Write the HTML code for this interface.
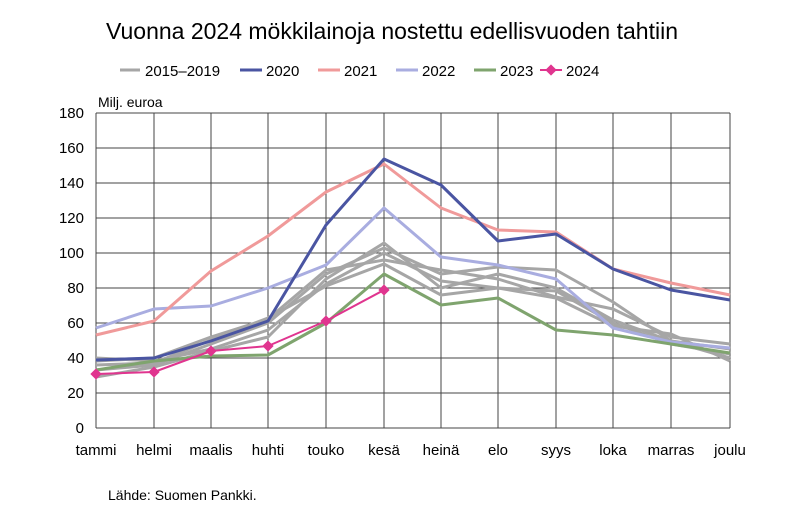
<!DOCTYPE html>
<html><head><meta charset="utf-8"><style>body{margin:0;background:#fff}svg{display:block;font-family:"Liberation Sans",sans-serif}</style></head><body>
<svg width="790" height="526" xmlns="http://www.w3.org/2000/svg">
<text x="392" y="39" font-size="23" text-anchor="middle" fill="#000">Vuonna 2024 mökkilainoja nostettu edellisvuoden tahtiin</text>
<g font-size="15" fill="#000">
<line x1="120" y1="70" x2="140" y2="70" stroke="#a6a6a6" stroke-width="3"/><text x="145" y="76">2015–2019</text>
<line x1="240" y1="70" x2="262" y2="70" stroke="#4a55a2" stroke-width="3"/><text x="266" y="76">2020</text>
<line x1="318" y1="70" x2="340" y2="70" stroke="#f09a9a" stroke-width="3"/><text x="344" y="76">2021</text>
<line x1="396" y1="70" x2="418" y2="70" stroke="#a9ade0" stroke-width="3"/><text x="422" y="76">2022</text>
<line x1="474" y1="70" x2="496" y2="70" stroke="#7fa46e" stroke-width="3"/><text x="500" y="76">2023</text>
<line x1="540" y1="70" x2="562" y2="70" stroke="#e0358f" stroke-width="2"/><rect x="547" y="66" width="8" height="8" fill="#e0358f" transform="rotate(45 551 70)"/><text x="566" y="76">2024</text>
</g>
<text x="98" y="107" font-size="14">Milj. euroa</text>
<g stroke="#444" stroke-width="1">
<line x1="96" y1="113" x2="730" y2="113"/><line x1="96" y1="148" x2="730" y2="148"/><line x1="96" y1="183" x2="730" y2="183"/><line x1="96" y1="218" x2="730" y2="218"/><line x1="96" y1="253" x2="730" y2="253"/><line x1="96" y1="288" x2="730" y2="288"/><line x1="96" y1="323" x2="730" y2="323"/><line x1="96" y1="358" x2="730" y2="358"/><line x1="96" y1="393" x2="730" y2="393"/><line x1="96" y1="428" x2="730" y2="428"/>
<line x1="96" y1="113" x2="96" y2="428"/><line x1="154" y1="113" x2="154" y2="428"/><line x1="211" y1="113" x2="211" y2="428"/><line x1="268" y1="113" x2="268" y2="428"/><line x1="326" y1="113" x2="326" y2="428"/><line x1="384" y1="113" x2="384" y2="428"/><line x1="441" y1="113" x2="441" y2="428"/><line x1="498" y1="113" x2="498" y2="428"/><line x1="556" y1="113" x2="556" y2="428"/><line x1="613" y1="113" x2="613" y2="428"/><line x1="671" y1="113" x2="671" y2="428"/><line x1="730" y1="113" x2="730" y2="428"/>
</g>
<g font-size="15" text-anchor="end">
<text x="84" y="118">180</text><text x="84" y="153">160</text><text x="84" y="188">140</text><text x="84" y="223">120</text><text x="84" y="258">100</text><text x="84" y="293">80</text><text x="84" y="328">60</text><text x="84" y="363">40</text><text x="84" y="398">20</text><text x="84" y="433">0</text>
</g>
<g font-size="15" text-anchor="middle">
<text x="96" y="455">tammi</text><text x="154" y="455">helmi</text><text x="211" y="455">maalis</text><text x="268" y="455">huhti</text><text x="326" y="455">touko</text><text x="384" y="455">kesä</text><text x="441" y="455">heinä</text><text x="498" y="455">elo</text><text x="556" y="455">syys</text><text x="613" y="455">loka</text><text x="671" y="455">marras</text><text x="730" y="455">joulu</text>
</g>
<g fill="none" stroke-width="3" stroke-linejoin="round">
<g stroke="#a6a6a6">
<polyline points="96,377 154,367 211,351 268,337 326,279 384,243 441,288 498,274 556,288 613,320 671,341 730,358"/>
<polyline points="96,370 154,365 211,344 268,323 326,274 384,248 441,274 498,267 556,270 613,302 671,341 730,349"/>
<polyline points="96,361 154,358 211,337 268,319 326,270 384,260 441,270 498,279 556,297 613,309 671,337 730,344"/>
<polyline points="96,358 154,361 211,349 268,330 326,284 384,253 441,281 498,288 556,291 613,323 671,344 730,354"/>
<polyline points="96,365 154,363 211,340 268,318 326,286 384,264 441,295 498,288 556,298 613,326 671,334 730,361"/>
</g>
<polyline stroke="#a9ade0" points="96,328 154,309 211,306 268,288 326,265 384,208 441,257 498,265 556,279 613,328 671,342 730,348"/>
<polyline stroke="#7fa46e" points="96,370 154,361 211,356 268,355 326,323 384,274 441,305 498,298 556,330 613,335 671,344 730,353"/>
<polyline stroke="#f09a9a" points="96,335 154,321 211,271 268,236 326,192 384,164 441,208 498,230 556,232 613,269 671,283 730,295"/>
<polyline stroke="#4a55a2" points="96,360 154,358 211,341 268,321 326,225 384,159 441,185 498,241 556,234 613,269 671,290 730,300"/>
<polyline stroke="#e0358f" stroke-width="2" points="96,374 154,372 211,351 268,346 326,321 384,290"/>
</g>
<g fill="#e0358f">
<rect x="92" y="370" width="8" height="8" transform="rotate(45 96 374)"/>
<rect x="150" y="368" width="8" height="8" transform="rotate(45 154 372)"/>
<rect x="207" y="347" width="8" height="8" transform="rotate(45 211 351)"/>
<rect x="264" y="342" width="8" height="8" transform="rotate(45 268 346)"/>
<rect x="322" y="317" width="8" height="8" transform="rotate(45 326 321)"/>
<rect x="380" y="286" width="8" height="8" transform="rotate(45 384 290)"/>
</g>
<text x="108" y="500" font-size="14">Lähde: Suomen Pankki.</text>
</svg>
</body></html>
